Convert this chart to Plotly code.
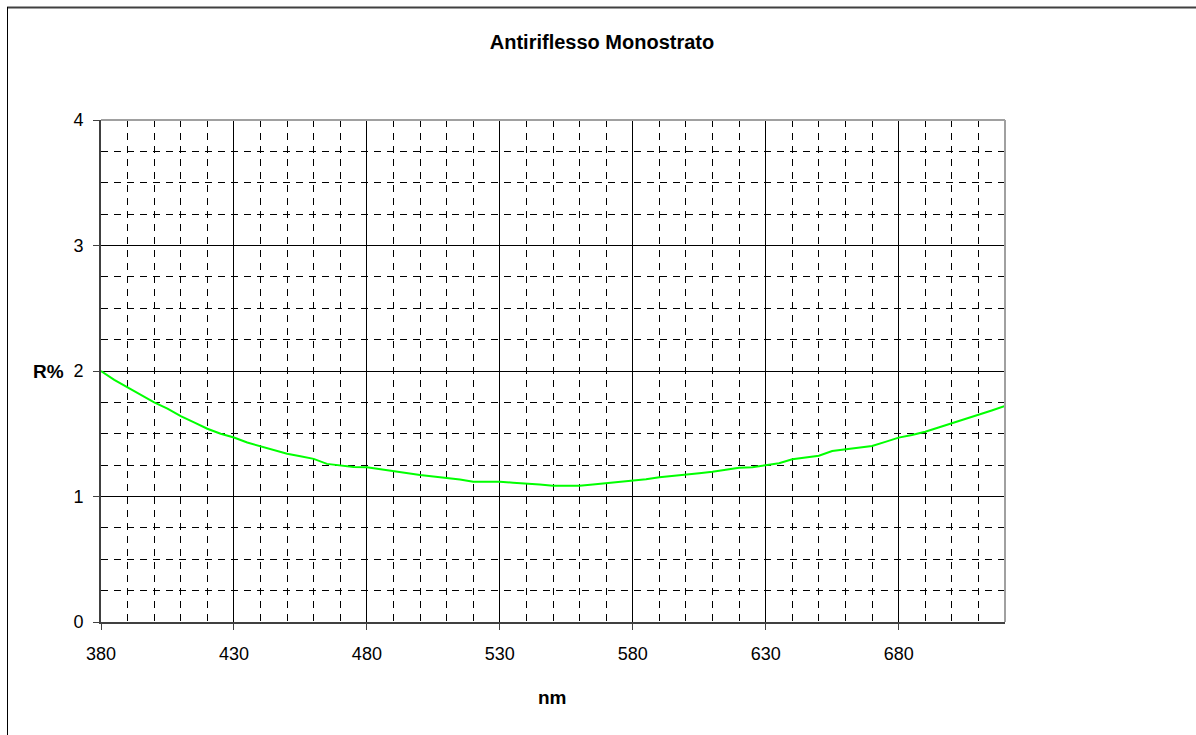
import plotly.graph_objects as go

wavelength_nm = [380, 385, 390, 395, 400, 405, 410, 415, 420, 425, 430, 435, 440, 445, 450,
                 455, 460, 465, 470, 475, 480, 485, 490, 495, 500, 505, 510, 515, 520, 525,
                 530, 535, 540, 545, 550, 555, 560, 565, 570, 575, 580, 585, 590, 595, 600,
                 605, 610, 615, 620, 625, 630, 635, 640, 645, 650, 655, 660, 665, 670, 675,
                 680, 685, 690, 695, 700, 705, 710, 715, 720]
reflectance_pct = [2.00, 1.93, 1.87, 1.81, 1.75, 1.70, 1.64, 1.59, 1.54, 1.50, 1.47, 1.43, 1.40, 1.37, 1.34,
                   1.32, 1.30, 1.26, 1.25, 1.235, 1.233, 1.217, 1.20, 1.185, 1.171, 1.16, 1.15, 1.135, 1.118, 1.118,
                   1.118, 1.11, 1.105, 1.095, 1.086, 1.086, 1.086, 1.095, 1.105, 1.113, 1.121, 1.137, 1.153, 1.162, 1.171,
                   1.185, 1.198, 1.215, 1.23, 1.233, 1.248, 1.265, 1.296, 1.31, 1.325, 1.363, 1.378, 1.39, 1.402, 1.435,
                   1.469, 1.49, 1.516, 1.55, 1.583, 1.615, 1.647, 1.685, 1.721]

x_ticks = [380, 430, 480, 530, 580, 630, 680]
y_ticks = [0, 1, 2, 3, 4]

title_text = "Antiriflesso Monostrato"
x_title = "nm"
y_title = "R%"

FONT = "Liberation Sans, Arial, sans-serif"
L, R, T, B = 101, 191, 120, 113
PW, PH = 1196 - L - R, 735 - T - B

fig = go.Figure()
fig.add_trace(go.Scatter(x=wavelength_nm, y=reflectance_pct, mode="lines",
                         line=dict(color="#00FF00", width=2), showlegend=False))

fig.update_layout(
    width=1196, height=735,
    margin=dict(l=L, r=R, t=T, b=B),
    paper_bgcolor="white", plot_bgcolor="white",
    font=dict(family=FONT, size=18, color="black"),
    title=dict(text="<b>" + title_text + "</b>", x=(602 / 1196), xanchor="center", y=1 - 42 / 735,
               yanchor="middle", font=dict(size=20, family=FONT)),
)

fig.update_xaxes(
    range=[380, 720], tickvals=x_ticks, ticktext=[str(v) for v in x_ticks],
    showgrid=True, gridcolor="black", gridwidth=1,
    minor=dict(dtick=10, tick0=380, showgrid=True, gridcolor="black", gridwidth=1, griddash="7px,6px"),
    showline=True, linecolor="#404040", linewidth=2,
    ticks="outside", ticklen=6, tickcolor="#404040", tickwidth=1,
    zeroline=False, tickfont=dict(size=18), ticklabelstandoff=8,
)
fig.update_yaxes(
    range=[0, 4], tickvals=y_ticks, ticktext=[str(v) for v in y_ticks],
    showgrid=True, gridcolor="black", gridwidth=1,
    minor=dict(dtick=0.25, tick0=0, showgrid=True, gridcolor="black", gridwidth=1, griddash="7px,6px"),
    showline=True, linecolor="#404040", linewidth=2,
    ticks="outside", ticklen=6, tickcolor="#404040", tickwidth=1,
    zeroline=False, tickfont=dict(size=18), ticklabelstandoff=6,
)

# R% label next to tick 2
fig.add_annotation(text="<b>" + y_title + "</b>", xref="paper", yref="y", x=(66 - L) / PW, y=2,
                   xanchor="right", yanchor="middle", showarrow=False, font=dict(size=19, family=FONT))
# nm label below x axis
fig.add_annotation(text="<b>" + x_title + "</b>", xref="paper", yref="paper", x=(552 - L) / PW,
                   y=-(697 - (735 - B)) / PH, xanchor="center", yanchor="middle", showarrow=False,
                   font=dict(size=19, family=FONT))

# gray top and right plot border
fig.add_shape(type="line", xref="paper", yref="paper", x0=0, x1=1, y0=1, y1=1,
              line=dict(color="#a0a0a0", width=2))
fig.add_shape(type="line", xref="paper", yref="paper", x0=1, x1=1, y0=0, y1=1,
              line=dict(color="#a0a0a0", width=2))

# outer chart border (top and left visible)
bot = 735 - B
fig.add_shape(type="line", xref="paper", yref="paper", x0=(7 - L) / PW, x1=2,
              y0=(bot - 7.5) / PH, y1=(bot - 7.5) / PH, line=dict(color="#404040", width=2))
fig.add_shape(type="line", xref="paper", yref="paper", x0=(7.5 - L) / PW, x1=(7.5 - L) / PW,
              y0=-1, y1=(bot - 7) / PH, line=dict(color="black", width=1))

fig.write_html("out.html", config={"displayModeBar": False},
               post_script="document.body.style.margin='0';document.body.style.overflow='hidden';")
